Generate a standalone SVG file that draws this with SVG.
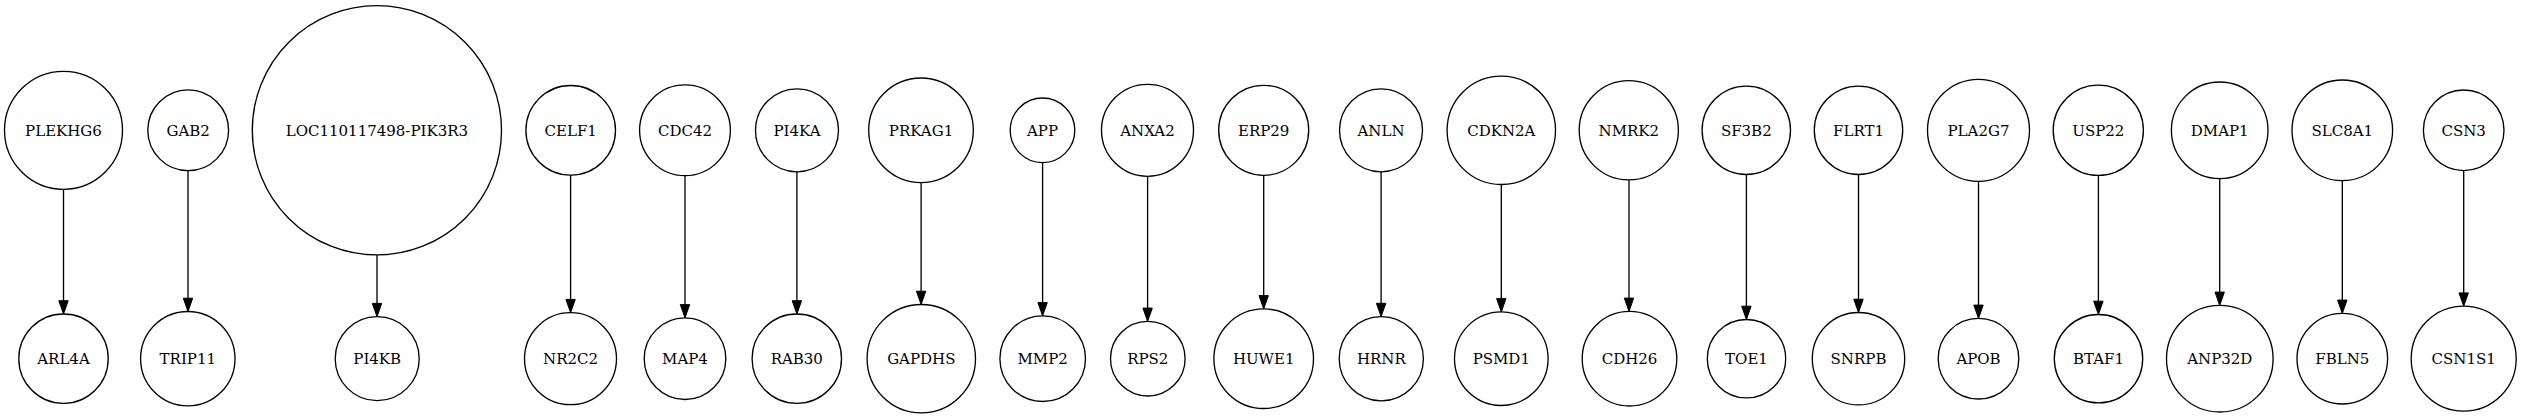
<svg xmlns="http://www.w3.org/2000/svg" width="2521" height="419" viewBox="0 0 2521 419">
<style>
.n circle{fill:#fff;stroke:#000;stroke-width:1.33}
.n text{font-family:"DejaVu Serif",serif;font-size:15px;text-anchor:middle;fill:#000}
#edges line{stroke:#000;stroke-width:1.33}
</style>
<defs>
<marker id="ah" markerUnits="userSpaceOnUse" orient="auto" refX="0" refY="0" markerWidth="16" markerHeight="12" viewBox="0 -6 16 12" overflow="visible">
<path d="M0,-4.7 L13.3,0 L0,4.7 Z" fill="#000" stroke="#000" stroke-width="1"/>
</marker>
</defs>
<rect width="2521" height="419" fill="#fff"/>
<g id="edges">
<line x1="63.5" y1="189.3" x2="63.5" y2="300.7" marker-end="url(#ah)"/>
<line x1="188" y1="170.7" x2="188" y2="298.2" marker-end="url(#ah)"/>
<line x1="377" y1="254.9" x2="377" y2="303.4" marker-end="url(#ah)"/>
<line x1="570.6" y1="175.1" x2="570.6" y2="299.4" marker-end="url(#ah)"/>
<line x1="685" y1="175.7" x2="685" y2="304.6" marker-end="url(#ah)"/>
<line x1="796.9" y1="171.8" x2="796.9" y2="300.7" marker-end="url(#ah)"/>
<line x1="921.1" y1="182.6" x2="921.1" y2="291.2" marker-end="url(#ah)"/>
<line x1="1042.6" y1="162.6" x2="1042.6" y2="302.6" marker-end="url(#ah)"/>
<line x1="1147.6" y1="176.3" x2="1147.6" y2="308.1" marker-end="url(#ah)"/>
<line x1="1263.7" y1="175.3" x2="1263.7" y2="295.6" marker-end="url(#ah)"/>
<line x1="1381.1" y1="171.8" x2="1381.1" y2="303.3" marker-end="url(#ah)"/>
<line x1="1501.3" y1="184.5" x2="1501.3" y2="298.6" marker-end="url(#ah)"/>
<line x1="1629" y1="179.9" x2="1629" y2="298.1" marker-end="url(#ah)"/>
<line x1="1746.4" y1="174.5" x2="1746.4" y2="306.2" marker-end="url(#ah)"/>
<line x1="1858.5" y1="174.5" x2="1858.5" y2="299.2" marker-end="url(#ah)"/>
<line x1="1978.5" y1="181.3" x2="1978.5" y2="305.1" marker-end="url(#ah)"/>
<line x1="2098.4" y1="175.4" x2="2098.4" y2="301.2" marker-end="url(#ah)"/>
<line x1="2219.7" y1="178.6" x2="2219.7" y2="292.1" marker-end="url(#ah)"/>
<line x1="2342.3" y1="180.6" x2="2342.3" y2="300.1" marker-end="url(#ah)"/>
<line x1="2463.7" y1="170.6" x2="2463.7" y2="292.9" marker-end="url(#ah)"/>
</g>
<g id="PLEKHG6" class="n"><circle cx="63.5" cy="130.3" r="59"/><text x="63.5" y="135.5">PLEKHG6</text></g>
<g id="ARL4A" class="n"><circle cx="63.5" cy="358.7" r="44.7"/><text x="63.5" y="363.9">ARL4A</text></g>
<g id="GAB2" class="n"><circle cx="188.2" cy="130.3" r="40.4"/><text x="188.2" y="135.5">GAB2</text></g>
<g id="TRIP11" class="n"><circle cx="187.8" cy="358.7" r="47.2"/><text x="187.8" y="363.9">TRIP11</text></g>
<g id="LOC110117498-PIK3R3" class="n"><circle cx="376.9" cy="130.3" r="124.6"/><text x="376.9" y="135.5">LOC110117498-PIK3R3</text></g>
<g id="PI4KB" class="n"><circle cx="377.2" cy="358.7" r="42"/><text x="377.2" y="363.9">PI4KB</text></g>
<g id="CELF1" class="n"><circle cx="570.7" cy="130.3" r="44.8"/><text x="570.7" y="135.5">CELF1</text></g>
<g id="NR2C2" class="n"><circle cx="570.5" cy="358.7" r="46"/><text x="570.5" y="363.9">NR2C2</text></g>
<g id="CDC42" class="n"><circle cx="685" cy="130.3" r="45.4"/><text x="685" y="135.5">CDC42</text></g>
<g id="MAP4" class="n"><circle cx="685" cy="358.7" r="40.8"/><text x="685" y="363.9">MAP4</text></g>
<g id="PI4KA" class="n"><circle cx="797" cy="130.3" r="41.5"/><text x="797" y="135.5">PI4KA</text></g>
<g id="RAB30" class="n"><circle cx="796.8" cy="358.7" r="44.7"/><text x="796.8" y="363.9">RAB30</text></g>
<g id="PRKAG1" class="n"><circle cx="921" cy="130.3" r="52.3"/><text x="921" y="135.5">PRKAG1</text></g>
<g id="GAPDHS" class="n"><circle cx="921.3" cy="358.7" r="54.2"/><text x="921.3" y="363.9">GAPDHS</text></g>
<g id="APP" class="n"><circle cx="1042.5" cy="130.3" r="32.3"/><text x="1042.5" y="135.5">APP</text></g>
<g id="MMP2" class="n"><circle cx="1042.7" cy="358.7" r="42.8"/><text x="1042.7" y="363.9">MMP2</text></g>
<g id="ANXA2" class="n"><circle cx="1147.5" cy="130.3" r="46"/><text x="1147.5" y="135.5">ANXA2</text></g>
<g id="RPS2" class="n"><circle cx="1147.8" cy="358.7" r="37.3"/><text x="1147.8" y="363.9">RPS2</text></g>
<g id="ERP29" class="n"><circle cx="1263.7" cy="130.3" r="45"/><text x="1263.7" y="135.5">ERP29</text></g>
<g id="HUWE1" class="n"><circle cx="1263.7" cy="358.7" r="49.8"/><text x="1263.7" y="363.9">HUWE1</text></g>
<g id="ANLN" class="n"><circle cx="1381" cy="130.3" r="41.5"/><text x="1381" y="135.5">ANLN</text></g>
<g id="HRNR" class="n"><circle cx="1381.3" cy="358.7" r="42.1"/><text x="1381.3" y="363.9">HRNR</text></g>
<g id="CDKN2A" class="n"><circle cx="1501.3" cy="130.3" r="54.2"/><text x="1501.3" y="135.5">CDKN2A</text></g>
<g id="PSMD1" class="n"><circle cx="1501.3" cy="358.7" r="46.8"/><text x="1501.3" y="363.9">PSMD1</text></g>
<g id="NMRK2" class="n"><circle cx="1628.8" cy="130.3" r="49.6"/><text x="1628.8" y="135.5">NMRK2</text></g>
<g id="CDH26" class="n"><circle cx="1629.5" cy="358.7" r="47.3"/><text x="1629.5" y="363.9">CDH26</text></g>
<g id="SF3B2" class="n"><circle cx="1746.3" cy="130.3" r="44.2"/><text x="1746.3" y="135.5">SF3B2</text></g>
<g id="TOE1" class="n"><circle cx="1746.5" cy="358.7" r="39.2"/><text x="1746.5" y="363.9">TOE1</text></g>
<g id="FLRT1" class="n"><circle cx="1858.5" cy="130.3" r="44.2"/><text x="1858.5" y="135.5">FLRT1</text></g>
<g id="SNRPB" class="n"><circle cx="1858.5" cy="358.7" r="46.2"/><text x="1858.5" y="363.9">SNRPB</text></g>
<g id="PLA2G7" class="n"><circle cx="1978.5" cy="130.3" r="51"/><text x="1978.5" y="135.5">PLA2G7</text></g>
<g id="APOB" class="n"><circle cx="1978.5" cy="358.7" r="40.3"/><text x="1978.5" y="363.9">APOB</text></g>
<g id="USP22" class="n"><circle cx="2098.3" cy="130.3" r="45.1"/><text x="2098.3" y="135.5">USP22</text></g>
<g id="BTAF1" class="n"><circle cx="2098.5" cy="358.7" r="44.2"/><text x="2098.5" y="363.9">BTAF1</text></g>
<g id="DMAP1" class="n"><circle cx="2219.7" cy="130.3" r="48.3"/><text x="2219.7" y="135.5">DMAP1</text></g>
<g id="ANP32D" class="n"><circle cx="2219.8" cy="358.7" r="53.3"/><text x="2219.8" y="363.9">ANP32D</text></g>
<g id="SLC8A1" class="n"><circle cx="2342.3" cy="130.3" r="50.3"/><text x="2342.3" y="135.5">SLC8A1</text></g>
<g id="FBLN5" class="n"><circle cx="2342.3" cy="358.7" r="45.3"/><text x="2342.3" y="363.9">FBLN5</text></g>
<g id="CSN3" class="n"><circle cx="2463.7" cy="130.3" r="40.3"/><text x="2463.7" y="135.5">CSN3</text></g>
<g id="CSN1S1" class="n"><circle cx="2463.7" cy="358.7" r="52.5"/><text x="2463.7" y="363.9">CSN1S1</text></g>
</svg>
